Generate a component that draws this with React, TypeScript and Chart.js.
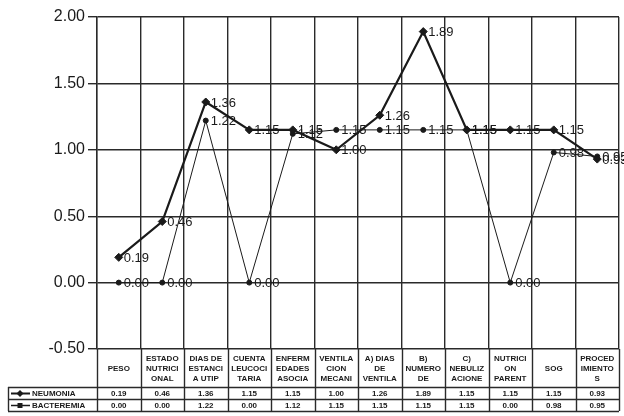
import React, { useEffect, useRef } from "react";
import { Chart, registerables } from "chart.js";

Chart.register(...registerables);

const CATEGORIES: string[][] = [
  ["PESO"],
  ["ESTADO", "NUTRICI", "ONAL"],
  ["DIAS DE", "ESTANCI", "A UTIP"],
  ["CUENTA", "LEUCOCI", "TARIA"],
  ["ENFERM", "EDADES", "ASOCIA"],
  ["VENTILA", "CION", "MECANI"],
  ["A) DIAS", "DE", "VENTILA"],
  ["B)", "NUMERO", "DE"],
  ["C)", "NEBULIZ", "ACIONE"],
  ["NUTRICI", "ON", "PARENT"],
  ["SOG"],
  ["PROCED", "IMIENTO", "S"],
];

const NEUMONIA = [0.19, 0.46, 1.36, 1.15, 1.15, 1.0, 1.26, 1.89, 1.15, 1.15, 1.15, 0.93];
const BACTEREMIA = [0.0, 0.0, 1.22, 0.0, 1.12, 1.15, 1.15, 1.15, 1.15, 0.0, 0.98, 0.95];
const SERIES_NAMES = ["NEUMONIA", "BACTEREMIA"];
const Y_MIN = -0.5;
const Y_MAX = 2.0;
const Y_STEP = 0.5;

const INK = "#1a1a1a";
const GRID = "#2a2a2a";
const HEADER_H = 38;
const ROW_H = 12;

const labelsPlugin = {
  id: "pointLabels",
  afterDatasetsDraw(chart: any) {
    const ctx = chart.ctx;
    ctx.save();
    ctx.fillStyle = INK;
    ctx.font = "13px 'Liberation Sans', Arial, sans-serif";
    ctx.textBaseline = "middle";
    ctx.textAlign = "left";
    chart.data.datasets.forEach((ds: any, d: number) => {
      const meta = chart.getDatasetMeta(d);
      meta.data.forEach((pt: any, i: number) => {
        ctx.fillText(Number(ds.data[i]).toFixed(2), pt.x + 5, pt.y + 1);
      });
    });
    ctx.restore();
  },
};

const tablePlugin = {
  id: "dataTable",
  afterDraw(chart: any) {
    const ctx = chart.ctx;
    const xs = chart.scales.x;
    const area = chart.chartArea;
    const n = CATEGORIES.length;
    const colW = (area.right - area.left) / n;
    const top = area.bottom;
    const hb = top + HEADER_H;
    const r1 = hb + ROW_H;
    const r2 = r1 + ROW_H;
    const tableLeft = 8;
    ctx.save();
    ctx.strokeStyle = GRID;
    ctx.lineWidth = 1.4;
    const line = (x1: number, y1: number, x2: number, y2: number) => {
      ctx.beginPath();
      ctx.moveTo(x1, y1);
      ctx.lineTo(x2, y2);
      ctx.stroke();
    };
    for (let i = 0; i <= n; i++) {
      const px = Math.round(area.left + i * colW) + 0.5;
      line(px, top, px, r2);
    }
    line(tableLeft + 0.5, hb, tableLeft + 0.5, r2);
    line(tableLeft, hb + 0.5, area.right, hb + 0.5);
    line(tableLeft, r1 + 0.5, area.right, r1 + 0.5);
    line(tableLeft, r2 + 0.5, area.right, r2 + 0.5);

    ctx.fillStyle = INK;
    ctx.strokeStyle = INK;
    ctx.textAlign = "center";
    ctx.textBaseline = "middle";
    ctx.font = "bold 8px 'Liberation Sans', Arial, sans-serif";
    const lh = 10;
    CATEGORIES.forEach((lines, i) => {
      const cx = xs.getPixelForValue(i);
      const cy = top + HEADER_H / 2 + 1;
      const y0 = cy - ((lines.length - 1) * lh) / 2;
      lines.forEach((t, k) => ctx.fillText(t, cx, y0 + k * lh));
      ctx.fillText(NEUMONIA[i].toFixed(2), cx, hb + ROW_H / 2 + 1);
      ctx.fillText(BACTEREMIA[i].toFixed(2), cx, r1 + ROW_H / 2 + 1);
    });

    // legend keys
    ctx.textAlign = "left";
    const rows = [hb + ROW_H / 2 + 0.5, r1 + ROW_H / 2 + 0.5];
    rows.forEach((y, k) => {
      ctx.lineWidth = k === 0 ? 2 : 1.5;
      line(11, y, 30, y);
      ctx.beginPath();
      if (k === 0) {
        ctx.moveTo(20, y - 3.5);
        ctx.lineTo(23.5, y);
        ctx.lineTo(20, y + 3.5);
        ctx.lineTo(16.5, y);
        ctx.closePath();
      } else {
        ctx.rect(17.5, y - 2.5, 5, 5);
      }
      ctx.fill();
      ctx.fillText(SERIES_NAMES[k], 32, y + 0.5);
    });
    ctx.restore();
  },
};

export default function App() {
  const ref = useRef<HTMLCanvasElement | null>(null);
  useEffect(() => {
    if (!ref.current) return;
    const chart = new Chart(ref.current, {
      type: "line",
      data: {
        labels: CATEGORIES.map((c) => c.join(" ")),
        datasets: [
          {
            label: SERIES_NAMES[0],
            data: NEUMONIA,
            borderColor: INK,
            backgroundColor: INK,
            borderWidth: 2.2,
            pointStyle: "rectRot",
            pointRadius: 4,
            pointBorderWidth: 1,
            tension: 0,
            clip: false as any,
          },
          {
            label: SERIES_NAMES[1],
            data: BACTEREMIA,
            borderColor: INK,
            backgroundColor: INK,
            borderWidth: 1,
            pointStyle: "circle",
            pointRadius: 2.5,
            pointBorderWidth: 1,
            tension: 0,
            clip: false as any,
          },
        ],
      },
      options: {
        responsive: false,
        animation: false,
        layout: { padding: { left: 0, right: 2, top: 17, bottom: 0 } },
        plugins: { legend: { display: false }, tooltip: { enabled: false } },
        scales: {
          x: {
            type: "category",
            offset: true,
            grid: { offset: true, color: GRID, lineWidth: 1.4, drawTicks: false },
            border: { display: false },
            ticks: { display: false },
            afterFit: (s: any) => {
              s.height = 67;
            },
          },
          y: {
            min: Y_MIN,
            max: Y_MAX,
            grid: { color: GRID, lineWidth: 1.4, tickLength: 9 },
            border: { color: GRID, width: 1.4 },
            ticks: {
              stepSize: Y_STEP,
              padding: 3,
              color: INK,
              font: { family: "'Liberation Sans', Arial, sans-serif", size: 16 },
              callback: (v: any) => Number(v).toFixed(2),
            },
            afterFit: (s: any) => {
              s.width = 97;
            },
          },
        },
      },
      plugins: [labelsPlugin, tablePlugin],
    });
    return () => chart.destroy();
  }, []);
  return (
    <div style={{ position: "fixed", left: 0, top: 0, width: 624, height: 416, background: "#fff" }}>
      <canvas ref={ref} width={624} height={416} style={{ display: "block" }} />
    </div>
  );
}
